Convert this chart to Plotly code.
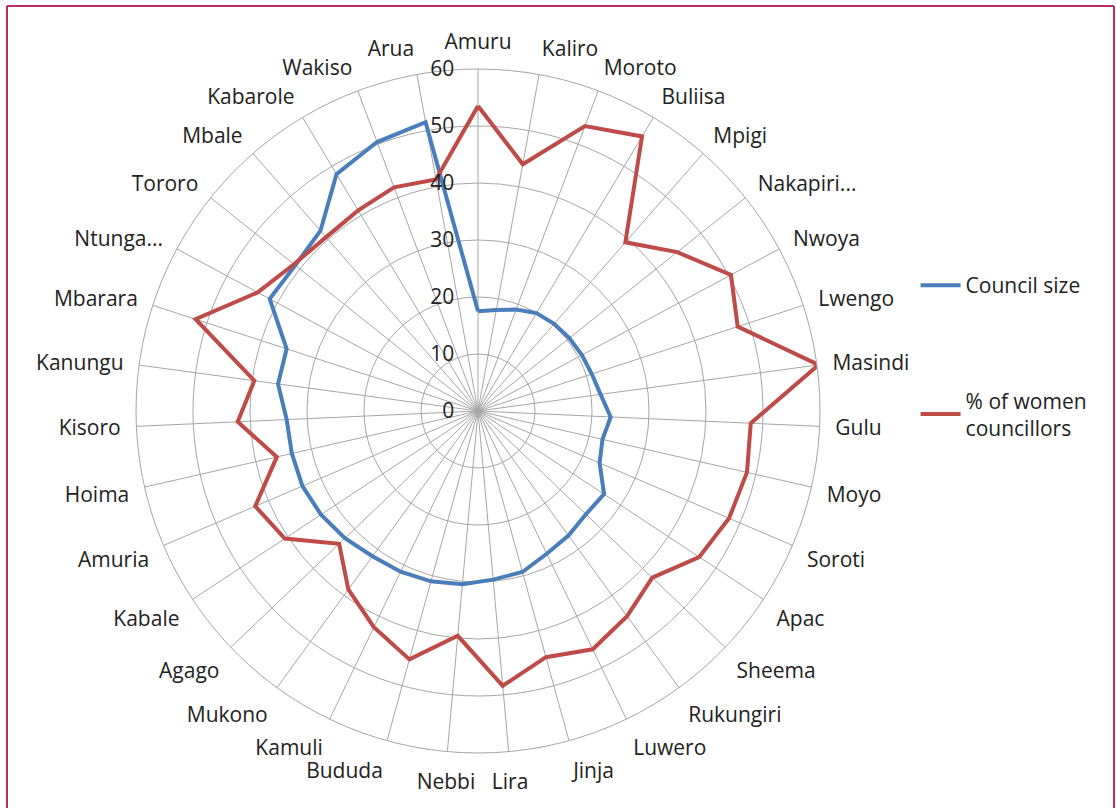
import plotly.graph_objects as go

districts = ["Amuru", "Kaliro", "Moroto", "Buliisa", "Mpigi", "Nakapiri...", "Nwoya", "Lwengo",
             "Masindi", "Gulu", "Moyo", "Soroti", "Apac", "Sheema", "Rukungiri", "Luwero",
             "Jinja", "Lira", "Nebbi", "Bududa", "Kamuli", "Mukono", "Agago", "Kabale",
             "Amuria", "Hoima", "Kisoro", "Kanungu", "Mbarara", "Ntunga...", "Tororo",
             "Mbale", "Kabarole", "Wakiso", "Arua"]

council_size = [17.5, 18, 19, 20, 20.3, 20.5, 20.7, 21, 21.7, 23.3, 22.4, 23.2, 26.5, 26.2,
                27, 27.8, 29.3, 29.7, 30.5, 31, 31.3, 31.5, 32.3, 33, 33.5, 33.5, 33.6,
                35.4, 35.3, 41.5, 41, 42, 48.4, 50.4, 51.5]

women_pct = [53.5, 44.0, 53.4, 56.1, 39.3, 44.7, 50.4, 47.9, 60.3, 47.9, 48.4, 47.9, 46.5,
             42.3, 44.5, 46.4, 44.8, 48.4, 39.6, 45.2, 42.1, 38.7, 33.7, 40.6, 42.5, 36.2,
             42.2, 39.6, 52.1, 43.9, 41.3, 40.5, 41.0, 41.9, 41.3]

radial_ticks = [0, 10, 20, 30, 40, 50, 60]

FONT = "Open Sans"
FS = 21
TXT = "#222222"
W, H = 1116, 808
cx, cy, R = 478, 411, 342

fig = go.Figure()
fig.add_trace(go.Scatterpolar(
    r=council_size + council_size[:1], theta=districts + districts[:1],
    mode="lines", name="Council size",
    line=dict(color="#4a7ebb", width=4), legendgroup="a"))
fig.add_trace(go.Scatterpolar(
    r=women_pct + women_pct[:1], theta=districts + districts[:1],
    mode="lines", name="% of women<br>councillors",
    line=dict(color="#be4b48", width=4), legendgroup="b"))

border = "#b8315e"
fig.update_layout(
    width=W, height=H,
    margin=dict(l=0, r=0, t=0, b=0),
    paper_bgcolor="white",
    font=dict(family=FONT, size=FS, color=TXT),
    polar=dict(
        domain=dict(x=[(cx - R) / W, (cx + R) / W], y=[(H - cy - R) / H, (H - cy + R) / H]),
        bgcolor="white",
        angularaxis=dict(
            direction="clockwise", rotation=90, type="category",
            categoryarray=districts,
            showgrid=True, gridcolor="#a6a6a6", gridwidth=1,
            showline=True, linecolor="#a6a6a6", linewidth=1,
            ticks="outside", ticklen=11, tickcolor="rgba(0,0,0,0)",
            tickfont=dict(family=FONT, size=FS, color=TXT)),
        radialaxis=dict(
            range=[0, 60], tickvals=radial_ticks, ticktext=[str(v) for v in radial_ticks],
            angle=90, tickangle=90, side="counterclockwise",
            showgrid=True, gridcolor="#a6a6a6", gridwidth=1,
            showline=False, ticks="outside", ticklen=16, tickcolor="rgba(0,0,0,0)",
            tickfont=dict(family=FONT, size=FS, color=TXT)),
    ),
    legend=dict(x=0.8204, y=0.672, xanchor="left", yanchor="top",
                font=dict(family=FONT, size=FS, color=TXT),
                tracegroupgap=85, traceorder="grouped", itemwidth=40,
                bgcolor="rgba(0,0,0,0)"),
    shapes=[
        dict(type="line", xref="paper", yref="paper", x0=7 / W, x1=7 / W, y0=0, y1=1 - 6 / H,
             line=dict(color=border, width=2)),
        dict(type="line", xref="paper", yref="paper", x0=7 / W, x1=1114 / W, y0=1 - 6 / H, y1=1 - 6 / H,
             line=dict(color=border, width=2)),
        dict(type="line", xref="paper", yref="paper", x0=1114 / W, x1=1114 / W, y0=0, y1=1 - 6 / H,
             line=dict(color=border, width=2)),
    ],
)

fig.write_html("out.html", config={"displayModeBar": False},
               post_script="document.body.style.margin='0px';")
